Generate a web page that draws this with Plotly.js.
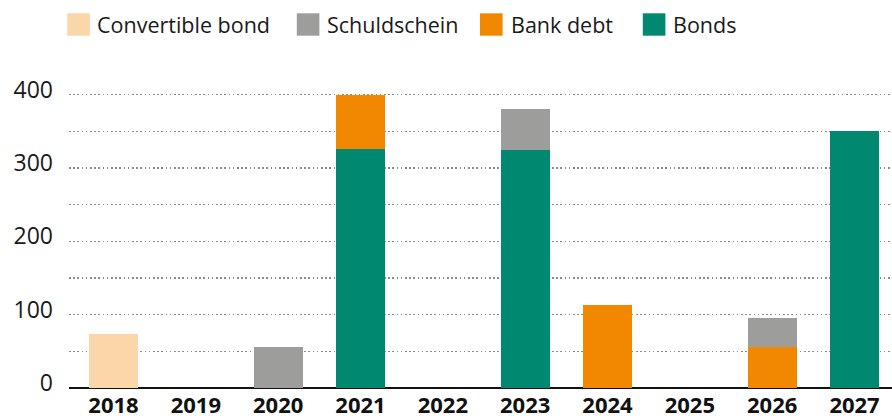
<!DOCTYPE html>
<html>
<head>
<meta charset="utf-8">
<script src="https://cdn.plot.ly/plotly-3.0.1.min.js"></script>
<style>html,body{margin:0;padding:0;background:#fff;}#chart{width:892px;height:419px;}</style>
</head>
<body>
<div id="chart"></div>
<script>
// ---- data ----
const years = ['2018','2019','2020','2021','2022','2023','2024','2025','2026','2027'];
const bonds        = [null, null, null, 326, null, 325, null, null, null, 350];
const bankDebt     = [null, null, null, 74,  null, null, 113, null, 56,  null];
const schuldschein = [null, null, 56,  null, null, 56,  null, null, 39,  null];
const convertible  = [73,   null, null, null, null, null, null, null, null, null];
const yTickVals  = [0, 50, 100, 150, 200, 250, 300, 350, 400];
const yTickText  = ['0', '', '100', '', '200', '', '300', '', '400'];

const seriesNames  = ['Convertible bond', 'Schuldschein', 'Bank debt', 'Bonds'];
const seriesColors = ['#FAD6A9', '#9D9D9C', '#F18800', '#008870'];

// ---- layout geometry ----
const W = 892, H = 419;
const M = {l: 69, r: 0, t: 80, b: 31};
const pw = W - M.l - M.r, ph = H - M.t - M.b;
const px2paperX = x => (x - M.l) / pw;
const px2paperY = y => (H - M.b - y) / ph;

const barTrace = (name, vals, color) => ({
  type: 'bar', name: name, x: years, y: vals,
  marker: {color: color}, showlegend: false, hoverinfo: 'x+y+name'
});

const traces = [
  barTrace('Bonds', bonds, seriesColors[3]),
  barTrace('Bank debt', bankDebt, seriesColors[2]),
  barTrace('Schuldschein', schuldschein, seriesColors[1]),
  barTrace('Convertible bond', convertible, seriesColors[0])
];

// manual legend (large square swatches)
const legSwatchX = [67.3, 296.8, 480, 642.8];
const legTextX   = [95, 324.5, 508.5, 670.5];
const shapes = [], annotations = [];
seriesNames.forEach((n, i) => {
  shapes.push({type: 'rect', xref: 'paper', yref: 'paper',
    x0: px2paperX(legSwatchX[i]), x1: px2paperX(legSwatchX[i] + 22.6),
    y0: px2paperY(35.7), y1: px2paperY(13.3),
    fillcolor: seriesColors[i], line: {width: 0}});
  annotations.push({xref: 'paper', yref: 'paper', x: px2paperX(legTextX[i]), y: px2paperY(24.5),
    xanchor: 'left', yanchor: 'middle', showarrow: false, text: n,
    font: {family: 'Open Sans', size: 21.5, color: '#1a1a1a'}});
});

const layout = {
  width: W, height: H,
  margin: M,
  paper_bgcolor: '#fff', plot_bgcolor: '#fff',
  barmode: 'stack',
  bargap: 0.405,
  showlegend: false,
  xaxis: {
    type: 'category',
    range: [-0.5405, 9.455],
    showgrid: false, zeroline: false, showline: false,
    ticks: '', ticklabelstandoff: 2,
    tickfont: {family: 'Open Sans', size: 22, color: '#111', weight: 'bold'},
    fixedrange: true
  },
  yaxis: {
    range: [0, 420],
    tickvals: yTickVals, ticktext: yTickText,
    showgrid: true, gridcolor: '#8c8c8c', gridwidth: 1.5, griddash: '1.5px,2.7px',
    zeroline: true, zerolinecolor: '#111', zerolinewidth: 2.5,
    showline: false, ticks: '',
    ticklabelstandoff: 15, ticklabelshift: -5,
    tickfont: {family: 'Open Sans', size: 23, color: '#1a1a1a'},
    fixedrange: true
  },
  shapes: shapes,
  annotations: annotations
};

Plotly.newPlot('chart', traces, layout, {displayModeBar: false, staticPlot: true});
</script>
</body>
</html>
